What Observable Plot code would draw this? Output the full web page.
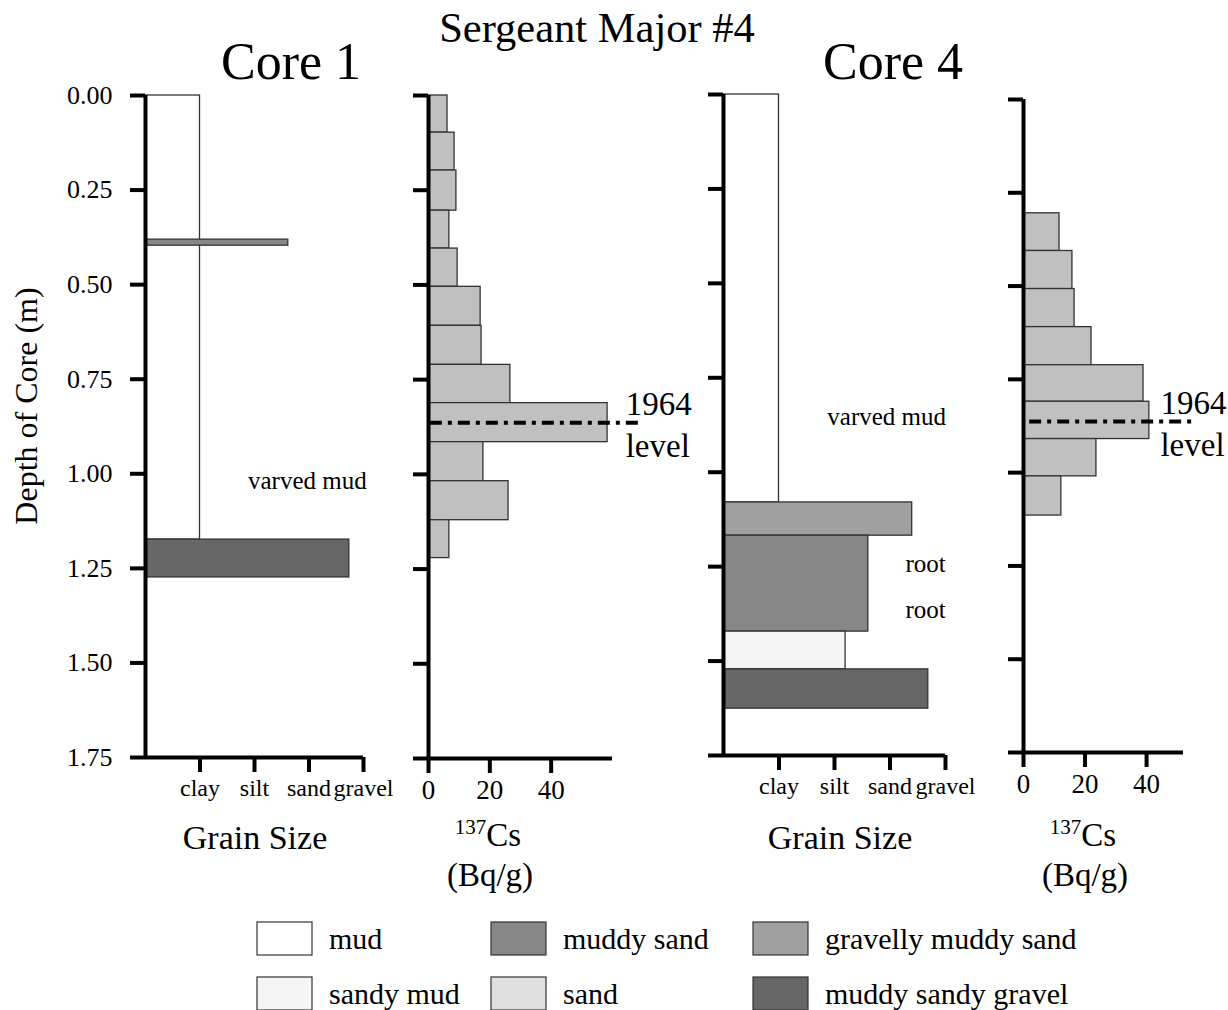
<!DOCTYPE html>
<html><head><meta charset="utf-8">
<script src="https://cdn.jsdelivr.net/npm/d3@7"></script>
<script src="https://cdn.jsdelivr.net/npm/@observablehq/plot@0.6"></script>
<style>
body{margin:0;background:#fff;}
#chart{position:relative;width:1228px;height:1010px;font-family:"Liberation Serif","Times New Roman",serif;background:#fff;}
#chart svg{position:absolute;}
#chart svg text{font-family:"Liberation Serif","Times New Roman",serif;}
</style></head><body><div id="chart"></div>
<script>
// ---- data ----
const sedimentTypes = ["mud","muddy sand","gravelly muddy sand","sandy mud","sand","muddy sandy gravel"];
const sedimentFills = ["#ffffff","#878787","#a0a0a0","#f5f5f5","#e0e0e0","#666666"];
const grainLabels = ["clay","silt","sand","gravel"];
const grainTicks = [1,2,3,4];
const depthTicks = [0,0.25,0.5,0.75,1,1.25,1.5,1.75];
const csTicks = [0,20,40];

// Core 1 grain-size layers
const core1Top    = [0, 0.381, 1.174];
const core1Bottom = [1.174, 0.397, 1.274];
const core1Grain  = [1, 2.62, 3.74];
const core1Type   = ["mud","muddy sand","muddy sandy gravel"];

// Core 4 grain-size layers
const core4Top    = [0, 1.080, 1.168, 1.422, 1.522];
const core4Bottom = [1.080, 1.168, 1.422, 1.522, 1.626];
const core4Grain  = [1, 3.40, 2.61, 2.20, 3.69];
const core4Type   = ["mud","gravelly muddy sand","muddy sand","sandy mud","muddy sandy gravel"];

// Core 1 137Cs
const cs1Top    = [0, 0.098, 0.198, 0.304, 0.404, 0.505, 0.608, 0.711, 0.812, 0.915, 1.018, 1.121];
const cs1Bottom = [0.098, 0.198, 0.304, 0.404, 0.505, 0.608, 0.711, 0.812, 0.915, 1.018, 1.121, 1.221];
const cs1Value  = [6.2, 8.5, 9.1, 6.8, 9.5, 17.0, 17.3, 26.7, 58.4, 17.9, 26.1, 6.8];

// Core 4 137Cs
const cs4Top    = [0.305, 0.406, 0.508, 0.610, 0.712, 0.810, 0.910, 1.010];
const cs4Bottom = [0.406, 0.508, 0.610, 0.712, 0.810, 0.910, 1.010, 1.115];
const cs4Value  = [11.7, 15.9, 16.6, 22.1, 39.0, 40.9, 23.7, 12.3];

const level1964Core1 = 0.864;
const level1964Core4 = 0.863;

const core1Notes  = [{x: 2.97, y: 1.020, text: "varved mud"}];
const core4Notes  = [{x: 2.94, y: 0.855, text: "varved mud"}, {x: 3.64, y: 1.242, text: "root"}, {x: 3.64, y: 1.366, text: "root"}];

// ---- drawing ----
const chart = document.getElementById("chart");
const FONT = '"Liberation Serif","Times New Roman",serif';

function panel(o) {
  const idx = d3.range(o.top.length);
  const marks = [];
  marks.push(Plot.rect(idx, {
    x1: 0, x2: i => o.value[i], y1: i => o.top[i], y2: i => o.bottom[i],
    fill: o.type ? (i => o.type[i]) : "#c0c0c0",
    stroke: "#333", strokeWidth: 1.3
  }));
  if (o.notes) marks.push(Plot.text(o.notes, {x: "x", y: "y", text: "text", fontSize: 25, fontFamily: FONT, fill: "black"}));
  if (o.level != null) {
    marks.push(Plot.ruleY([o.level], {x1: o.levelX[0], x2: o.levelX[1], strokeWidth: 4, strokeDasharray: "12,6,4,6", stroke: "black"}));
    marks.push(Plot.text([o.level], {y: d => d, x: o.levelX[2], text: () => "1964\nlevel", textAnchor: "start", lineHeight: 1.27, fontSize: 33, fontFamily: FONT, fill: "black"}));
  }
  marks.push(Plot.ruleX([0], {strokeWidth: 4, stroke: "black"}));
  marks.push(Plot.ruleY([1.75], {x1: o.xDomain[0], x2: o.xDomain[1], strokeWidth: 4, stroke: "black"}));
  marks.push(Plot.axisY({ticks: depthTicks, tickSize: 15, tickPadding: 18, strokeWidth: 4, label: null,
    tickFormat: o.yLabels ? d3.format(".2f") : () => "", fontSize: 26, fontFamily: FONT, fontVariant: "normal"}));
  marks.push(Plot.axisX({ticks: o.xTicks, tickFormat: o.xFormat, tickSize: 15, tickPadding: 6, strokeWidth: 4,
    label: null, fontSize: o.xFont, fontFamily: FONT, fontVariant: "normal"}));
  const svg = Plot.plot({
    width: o.width, height: 820,
    marginLeft: o.marginLeft, marginRight: o.marginRight, marginTop: o.marginTop, marginBottom: o.marginBottom,
    x: {domain: o.xDomain},
    y: {domain: [0, 1.75], reverse: true},
    color: {domain: sedimentTypes, range: sedimentFills},
    style: {fontFamily: FONT, fontSize: "25px", overflow: "visible", background: "transparent", color: "black"},
    marks
  });
  svg.style.left = o.left + "px";
  svg.style.top = "0px";
  chart.appendChild(svg);
}

panel({left: 0, width: 400, marginLeft: 145, marginRight: 37, marginTop: 95, marginBottom: 63,
  xDomain: [0, 4], xTicks: grainTicks, xFormat: d => grainLabels[d - 1], xFont: 24, yLabels: true,
  top: core1Top, bottom: core1Bottom, value: core1Grain, type: core1Type, notes: core1Notes});

panel({left: 380, width: 330, marginLeft: 48, marginRight: 98, marginTop: 95, marginBottom: 62,
  xDomain: [0, 60], xTicks: csTicks, xFormat: d => String(d), xFont: 27, yLabels: false,
  top: cs1Top, bottom: cs1Bottom, value: cs1Value, level: level1964Core1, levelX: [0.6, 70, 64.3]});

panel({left: 680, width: 300, marginLeft: 43, marginRight: 35, marginTop: 94, marginBottom: 65,
  xDomain: [0, 4], xTicks: grainTicks, xFormat: d => grainLabels[d - 1], xFont: 24, yLabels: false,
  top: core4Top, bottom: core4Bottom, value: core4Grain, type: core4Type, notes: core4Notes});

panel({left: 980, width: 248, marginLeft: 43, marginRight: 45, marginTop: 99, marginBottom: 68,
  xDomain: [0, 52], xTicks: csTicks, xFormat: d => String(d), xFont: 27, yLabels: false,
  top: cs4Top, bottom: cs4Bottom, value: cs4Value, level: level1964Core4, levelX: [2, 56, 44.5]});

// ---- titles, axis titles and legend ----
const ov = d3.select(chart).append("svg")
  .attr("width", 1228).attr("height", 1010)
  .style("left", "0px").style("top", "0px").style("pointer-events", "none")
  .style("font-family", FONT);

function txt(x, y, s, size, anchor = "middle") {
  return ov.append("text").attr("x", x).attr("y", y).attr("font-size", size)
    .attr("text-anchor", anchor).attr("fill", "black").text(s);
}
txt(597, 42, "Sergeant Major #4", 42.5);
txt(291, 79, "Core 1", 52);
txt(893, 79, "Core 4", 52);
txt(255, 849, "Grain Size", 34);
txt(840, 849, "Grain Size", 34);
ov.append("text").attr("transform", "translate(37,406) rotate(-90)")
  .attr("text-anchor", "middle").attr("font-size", 32).attr("fill", "black").text("Depth of Core (m)");

function csTitle(cx) {
  const t = ov.append("text").attr("x", cx).attr("y", 846).attr("text-anchor", "middle").attr("fill", "black");
  t.append("tspan").attr("font-size", 21).attr("dy", -12).text("137");
  t.append("tspan").attr("font-size", 33).attr("dy", 12).text("Cs");
  txt(cx + 2, 886, "(Bq/g)", 33);
}
csTitle(488);
csTitle(1083);

const legendX = [257, 491, 753];
const legendOrder = [["mud","muddy sand","gravelly muddy sand"],["sandy mud","sand","muddy sandy gravel"]];
const legendY = [922, 977];
legendOrder.forEach((row, r) => row.forEach((name, c) => {
  ov.append("rect").attr("x", legendX[c]).attr("y", legendY[r]).attr("width", 55).attr("height", 33)
    .attr("fill", sedimentFills[sedimentTypes.indexOf(name)]).attr("stroke", "#333").attr("stroke-width", 1.2);
  txt(legendX[c] + 72, legendY[r] + 27, name, 30, "start");
}));
</script></body></html>
